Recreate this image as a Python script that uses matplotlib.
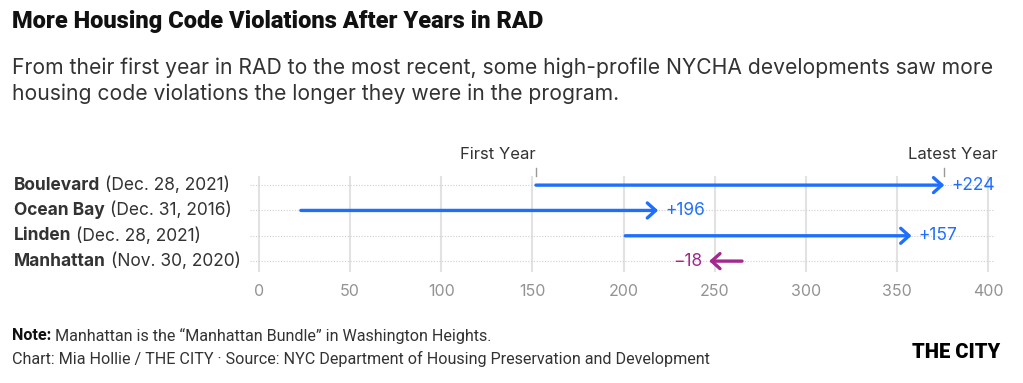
import matplotlib
matplotlib.use("Agg")
import matplotlib.pyplot as plt
import matplotlib.transforms as mtransforms

# Data
names = ["Boulevard", "Ocean Bay", "Linden", "Manhattan"]
dates = ["(Dec. 28, 2021)", "(Dec. 31, 2016)", "(Dec. 28, 2021)", "(Nov. 30, 2020)"]
first_year = [152, 23, 201, 265]
latest_year = [376, 219, 358, 247]
xticks = [0, 50, 100, 150, 200, 250, 300, 350, 400]

BLUE = "#1f6fff"
MAGENTA = "#a3288f"
BODY = ["Inter", "DejaVu Sans"]
NARROW = ["Roboto", "DejaVu Sans"]

W, H = 1023, 383
fig = plt.figure(figsize=(W / 100, H / 100), dpi=100)
fig.patch.set_facecolor("white")


def fx(px):
    return px / W


def fy(py):
    return 1 - py / H


# Title / subtitle
fig.text(fx(12), fy(10), "More Housing Code Violations After Years in RAD",
         family=NARROW, weight="black", size=17, color="#111", va="top")
fig.text(fx(12), fy(57), "From their first year in RAD to the most recent, some high-profile NYCHA developments saw more",
         family=BODY, size=15.2, color="#333", va="top")
fig.text(fx(12), fy(83), "housing code violations the longer they were in the program.",
         family=BODY, size=15.2, color="#333", va="top")

# Main axes
ax = fig.add_axes([fx(250), fy(272), fx(995) - fx(250), (272 - 176) / H])
ax.set_xlim(-4.9, 403.8)
ax.set_ylim(3.43, -0.36)
for s in ax.spines.values():
    s.set_visible(False)
ax.set_yticks([])
ax.set_xticks(xticks)
ax.tick_params(axis="x", length=0, pad=9, labelsize=11.5, labelcolor="#939393")
for lab in ax.get_xticklabels():
    lab.set_family(BODY)
for x in xticks:
    ax.axvline(x, color="#e2e2e2", lw=1.5, zorder=0)
for i in range(len(names)):
    ax.axhline(i, color="#cfcfcf", lw=0.8, ls=(0, (1, 1.5)), zorder=0)

# Arrows and change labels
for i in range(len(names)):
    a, b = first_year[i], latest_year[i]
    diff = b - a
    c = BLUE if diff > 0 else MAGENTA
    ax.annotate("", xy=(b, i), xytext=(a, i),
                arrowprops=dict(arrowstyle="->,head_length=0.3,head_width=0.27",
                                color=c, lw=2.4, shrinkA=0, shrinkB=0,
                                mutation_scale=20))
    lab = f"+{diff}" if diff > 0 else f"\u2212{abs(diff)}"
    ax.annotate(lab, xy=(b, i), xytext=(5 if diff > 0 else -5, 0),
                textcoords="offset points", ha="left" if diff > 0 else "right",
                va="center", color=c, size=12.5, family=BODY)

# First / latest year markers (from Boulevard)
ax.annotate("First Year", xy=(first_year[0], -0.36), xytext=(0, 10),
            textcoords="offset points", ha="right", va="bottom",
            size=12, color="#333", family=BODY, annotation_clip=False)
ax.annotate("Latest Year", xy=(latest_year[0], -0.36), xytext=(6, 10),
            textcoords="offset points", ha="center", va="bottom",
            size=12, color="#333", family=BODY, annotation_clip=False)
for x in [first_year[0], latest_year[0]]:
    ax.plot([x, x], [-0.36, -0.66], color="#999", lw=1, clip_on=False)

# Row labels
trans = mtransforms.blended_transform_factory(fig.transFigure, ax.transData)
for i in range(len(names)):
    t = ax.text(fx(14), i, names[i], transform=trans, weight="bold",
                size=12.5, color="#333", family=BODY, va="center")
    ax.annotate(dates[i], xy=(1, 0.5), xycoords=t, xytext=(3.5, 0),
                textcoords="offset points", va="center",
                size=12.5, color="#333", family=BODY)

# Footer
t = fig.text(fx(12), fy(336), "Note:", family=NARROW, weight="bold",
             size=11.6, color="#111", va="center")
ax.annotate("Manhattan is the \u201cManhattan Bundle\u201d in Washington Heights.",
            xy=(1, 0.5), xycoords=t, xytext=(3, 0), textcoords="offset points",
            va="center", family=NARROW, size=11.6, color="#333")
fig.text(fx(12), fy(359),
         "Chart: Mia Hollie / THE CITY \u00b7 Source: NYC Department of Housing Preservation and Development",
         family=NARROW, size=11.6, color="#333", va="center")
fig.text(fx(1000), fy(353), "THE CITY", family=NARROW, weight="black",
         size=14.5, color="#000", va="center", ha="right")

fig.savefig("out.png", dpi=100)
